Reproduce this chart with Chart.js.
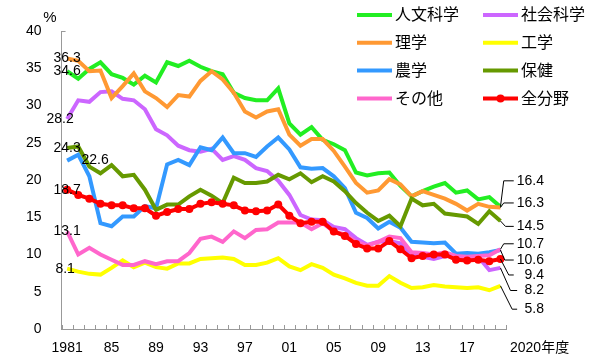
<!DOCTYPE html>
<html lang="ja">
<head>
<meta charset="UTF-8">
<title>分野別の推移</title>
<script src="https://cdn.jsdelivr.net/npm/chart.js@4.4.1/dist/chart.umd.min.js"></script>
<style>
    html, body { margin: 0; padding: 0; background: #fff; }
    #wrap { width: 600px; height: 360px; }
</style>
</head>
<body>
<div id="wrap"><canvas id="fieldChart" width="600" height="360"></canvas></div>
<script>
// categories
const years = [1981, 1982, 1983, 1984, 1985, 1986, 1987, 1988, 1989, 1990,
        1991, 1992, 1993, 1994, 1995, 1996, 1997, 1998, 1999, 2000,
        2001, 2002, 2003, 2004, 2005, 2006, 2007, 2008, 2009, 2010,
        2011, 2012, 2013, 2014, 2015, 2016, 2017, 2018, 2019, 2020];

const xTickYears = [1981, 1985, 1989, 1993, 1997, 2001, 2005, 2009, 2013, 2017];
const xTickLabels = ['1981', '85', '89', '93', '97', '01', '05', '09', '13', '17'];
const lastYearLabel = '2020年度';
const yUnit = '%';

// series (legend order)
const fieldNames = ['人文科学', '社会科学', '理学', '工学', '農学', '保健', 'その他', '全分野'];
const fieldColors = ['#22ee22', '#cc66ff', '#ff9933', '#ffff00', '#3399ff', '#669900', '#ff66cc', '#ff0000'];

const humanities = [34.6, 33.6, 34.9, 35.8, 34.2, 33.7, 32.8, 34.0, 33.1, 35.8,
        35.3, 36.0, 35.2, 34.6, 34.2, 31.7, 31.0, 30.7, 30.7, 32.3,
        27.6, 26.1, 27.1, 25.4, 24.8, 24.0, 21.0, 20.6, 20.9, 21.0,
        19.2, 17.8, 18.5, 19.1, 19.6, 18.3, 18.6, 17.4, 17.7, 16.4];

const socialSciences = [28.2, 30.7, 30.5, 31.8, 31.9, 30.9, 30.7, 29.5, 26.8, 26.0,
        24.6, 24.0, 23.8, 24.2, 22.7, 23.2, 22.7, 21.6, 21.2, 19.9,
        18.0, 15.3, 14.7, 14.6, 13.7, 13.4, 12.2, 11.3, 11.7, 11.8,
        11.5, 10.0, 9.7, 9.4, 9.8, 9.7, 9.6, 9.7, 7.9, 8.2];

const science = [36.3, 36.0, 34.6, 34.7, 31.0, 32.6, 34.3, 31.9, 31.0, 29.8,
        31.4, 31.2, 33.3, 34.6, 33.5, 31.7, 29.2, 28.4, 29.2, 29.5,
        26.1, 24.6, 25.5, 25.5, 23.9, 21.8, 19.6, 18.3, 18.6, 20.1,
        19.4, 17.8, 18.5, 18.0, 17.5, 16.8, 15.9, 16.8, 16.4, 16.3];

const engineering = [8.1, 7.7, 7.4, 7.3, 8.2, 9.2, 8.3, 8.9, 8.3, 8.1,
        8.8, 8.8, 9.4, 9.5, 9.6, 9.4, 8.6, 8.6, 8.9, 9.5,
        8.4, 7.9, 8.7, 8.2, 7.3, 6.8, 6.2, 5.8, 5.8, 7.1,
        6.2, 5.5, 5.6, 5.9, 5.7, 5.6, 5.5, 5.6, 5.2, 5.8];

const agriculture = [22.6, 23.4, 20.5, 14.2, 13.8, 15.1, 15.1, 16.5, 16.2, 22.1,
        22.7, 22.0, 24.4, 24.0, 25.7, 23.6, 23.6, 23.1, 24.5, 25.7,
        24.1, 21.7, 21.5, 21.6, 20.5, 18.9, 15.6, 14.9, 13.5, 14.4,
        13.6, 11.7, 11.6, 11.5, 11.6, 10.1, 10.2, 10.1, 10.3, 10.6];

const health = [24.3, 24.5, 21.8, 20.9, 22.0, 20.5, 20.7, 18.7, 16.0, 16.7,
        16.7, 17.8, 18.7, 17.9, 16.9, 20.3, 19.6, 19.6, 19.8, 20.7,
        20.1, 20.9, 19.7, 20.5, 19.8, 18.5, 16.9, 15.6, 14.5, 15.2,
        13.8, 17.5, 16.6, 16.8, 15.5, 15.3, 15.1, 14.1, 15.8, 14.5];

const others = [13.1, 10.0, 10.9, 10.0, 9.3, 8.6, 8.6, 9.1, 8.7, 9.1,
        9.1, 10.2, 12.1, 12.4, 11.7, 13.1, 12.2, 13.3, 13.4, 14.3,
        14.3, 14.3, 13.4, 14.2, 13.1, 12.7, 11.7, 11.2, 11.7, 12.4,
        12.2, 10.3, 10.2, 10.0, 10.3, 9.8, 9.7, 9.8, 9.9, 10.7];

const allFields = [18.7, 18.0, 17.5, 16.8, 16.6, 16.6, 16.2, 16.2, 15.2, 15.7,
        16.1, 16.1, 16.8, 17.0, 16.8, 16.6, 15.9, 15.8, 15.9, 16.7,
        15.2, 14.2, 14.4, 14.4, 13.1, 12.5, 11.4, 10.8, 10.8, 11.8,
        10.7, 9.5, 9.8, 10.0, 10.0, 9.3, 9.2, 9.3, 9.1, 9.4];

const seriesValues = [humanities, socialSciences, science, engineering,
        agriculture, health, others, allFields];

// label placement tweaks (pixels)
const startLabelDx = [0, -7, 0, -2, 28, 0, 0, 0];
const endLabelDy = [-26, 22.6, -4.6, 23.4, 10, 5.4, -5.5, 16];
const endElbowDx = [3.3, 10, 3.3, 11.7, 4.3, 5, 3.3, 8.3];
const endTailDx = [13.3, 16.7, 13.3, 16.7, 13.3, 13.3, 13.3, 13.3];

const numFont = '14px "Liberation Sans", Arial, "Noto Sans CJK JP", sans-serif';
const legendFont = '16px "Liberation Sans", Arial, "Noto Sans CJK JP", sans-serif';

Chart.defaults.font.family = '"Liberation Sans", Arial, "Noto Sans CJK JP", sans-serif';
Chart.defaults.font.size = 14;
Chart.defaults.color = '#000';

const chartDecor = {
    id: 'chartDecor',
    afterDraw(chart) {
        const {ctx, chartArea} = chart;
        const n = years.length;

        ctx.save();

        // small inner ticks on the x axis, cap on y axis
        ctx.strokeStyle = '#999';
        ctx.lineWidth = 1;
        ctx.beginPath();
        const step = (chartArea.right - chartArea.left) / n;
        for (let k = 0; k <= n; k++) {
            const px = Math.round(chartArea.left + k * step) + 0.5;
            ctx.moveTo(px, chartArea.bottom);
            ctx.lineTo(px, chartArea.bottom - 4);
        }
        ctx.moveTo(chartArea.left, Math.round(chartArea.top) + 0.5);
        ctx.lineTo(chartArea.left + 4, Math.round(chartArea.top) + 0.5);
        ctx.stroke();

        ctx.fillStyle = '#000';
        ctx.font = numFont;
        ctx.textBaseline = 'middle';

        // unit and last year label
        ctx.textAlign = 'center';
        ctx.font = '15px "Liberation Sans", Arial, sans-serif';
        ctx.fillText(yUnit, 50, 18);
        ctx.font = numFont;
        ctx.textAlign = 'left';
        ctx.fillText(lastYearLabel, chartArea.right + 4, chartArea.bottom + 19);

        // start and end value labels
        chart.data.datasets.forEach((ds, i) => {
            const pts = chart.getDatasetMeta(i).data;
            const first = pts[0];
            const last = pts[pts.length - 1];

            ctx.textAlign = 'center';
            ctx.fillText(ds.data[0].toFixed(1), first.x + startLabelDx[i], first.y);

            const ly = last.y + endLabelDy[i];
            ctx.strokeStyle = '#000';
            ctx.lineWidth = 1;
            ctx.beginPath();
            ctx.moveTo(last.x, last.y);
            ctx.lineTo(last.x + endElbowDx[i], ly);
            ctx.lineTo(last.x + endTailDx[i], ly);
            ctx.stroke();

            ctx.textAlign = 'right';
            ctx.fillText(ds.data[ds.data.length - 1].toFixed(1), chartArea.right + 38, ly);
        });

        // legend, two columns
        const colX = [357, 483];
        ctx.font = legendFont;
        ctx.textAlign = 'left';
        chart.data.datasets.forEach((ds, i) => {
            const lx = colX[i % 2];
            const ly = 15 + Math.floor(i / 2) * 27.8;
            ctx.strokeStyle = ds.borderColor;
            ctx.lineWidth = 4;
            ctx.beginPath();
            ctx.moveTo(lx, ly);
            ctx.lineTo(lx + 35, ly);
            ctx.stroke();
            if (ds.pointRadius > 0) {
                ctx.fillStyle = ds.borderColor;
                ctx.beginPath();
                ctx.arc(lx + 17.5, ly, ds.pointRadius, 0, Math.PI * 2);
                ctx.fill();
            }
            ctx.fillStyle = '#000';
            ctx.fillText(ds.label, lx + 38, ly + 1);
        });

        ctx.restore();
    }
};

const fieldCtx = document.getElementById('fieldChart');

new Chart(fieldCtx, {

    type: 'line',

    data: {

        labels: years,

        datasets: fieldNames.map((name, i) => ({
                label: name,
                data: seriesValues[i],
                borderColor: fieldColors[i],
                backgroundColor: fieldColors[i],
                borderWidth: 4,
                tension: 0,
                pointRadius: name === '全分野' ? 4 : 0,
                pointBackgroundColor: fieldColors[i],
                pointBorderWidth: 0,
                order: fieldNames.length - i
            }))
    },

    options: {

        responsive: false,

        animation: false,

        layout: {
            padding: {left: 6, right: 94, top: 31, bottom: 3}
        },

        plugins: {
            legend: {display: false},
            tooltip: {enabled: false}
        },

        scales: {

            x: {
                offset: true,
                grid: {display: true, drawOnChartArea: false, drawTicks: false},
                border: {display: true, color: '#999', width: 1},
                afterFit: (scale) => {
                    scale.height = 28;
                },
                ticks: {
                    autoSkip: false,
                    maxRotation: 0,
                    padding: 11,
                    color: '#000',
                    callback: (v, i) => {
                        const k = xTickYears.indexOf(years[i]);
                        return k >= 0 ? xTickLabels[k] : '';
                    }
                }
            },

            y: {
                min: 0,
                max: 40,
                grid: {display: true, drawOnChartArea: false, drawTicks: false},
                border: {display: true, color: '#999', width: 1},
                ticks: {
                    stepSize: 5,
                    padding: 20,
                    color: '#000'
                }
            }
        }
    },

    plugins: [chartDecor]
});
</script>
</body>
</html>
